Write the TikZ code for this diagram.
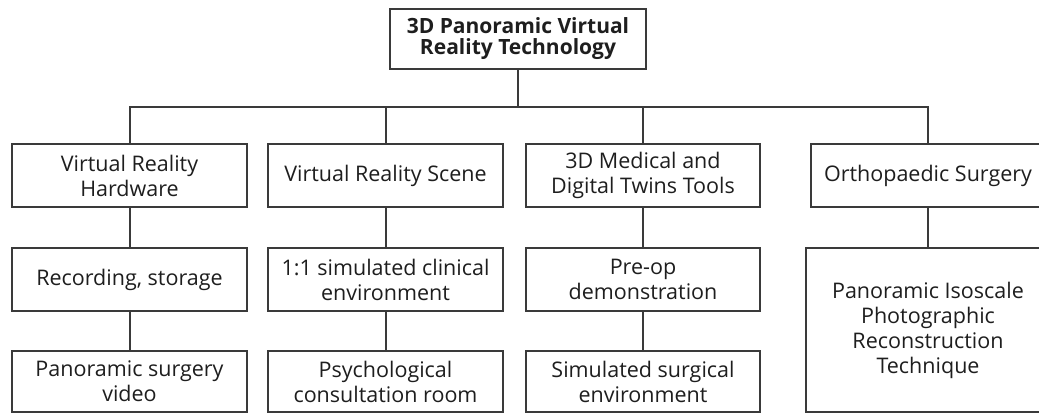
\documentclass[tikz,border=0pt]{standalone}
\usepackage{fontspec}
\setmainfont{Open Sans}
\begin{document}
\begin{tikzpicture}[x=1pt,y=-1pt,
  box/.style={draw=linegray, line width=2pt, fill=white, align=center,
    inner sep=0pt, text=textgray,
    font=\fontsize{21.5}{25}\selectfont},
  link/.style={draw=linegray, line width=2pt}]
  \definecolor{linegray}{HTML}{3A3A3A}
  \definecolor{textgray}{HTML}{1E1E1E}
  \useasboundingbox (0,0) rectangle (1039,414);
  \clip (0,0) rectangle (1039,414);

  % root
  \node[box, minimum width=256pt, minimum height=60pt,
        font=\fontsize{21}{21}\selectfont\bfseries] (top) at (518,39)
        {3D Panoramic Virtual\\Reality Technology};

  % first level
  \node[box, minimum width=235pt, minimum height=63pt] (h1) at (129.5,175.5) {Virtual Reality\\Hardware};
  \node[box, minimum width=235pt, minimum height=63pt] (h2) at (385.5,175.5) {Virtual Reality Scene};
  \node[box, minimum width=234pt, minimum height=63pt] (h3) at (643,175.5) {3D Medical and\\Digital Twins Tools};
  \node[box, minimum width=234pt, minimum height=63pt] (h4) at (928,175.5) {Orthopaedic Surgery};

  % second level
  \node[box, minimum width=235pt, minimum height=63pt] (m1) at (129.5,279.5) {Recording, storage};
  \node[box, minimum width=235pt, minimum height=63pt] (m2) at (385.5,279.5) {1:1 simulated clinical\\environment};
  \node[box, minimum width=234pt, minimum height=63pt] (m3) at (643,279.5) {Pre-op\\demonstration};
  \node[box, minimum width=244pt, minimum height=164pt] (m4) at (928,330) {Panoramic Isoscale\\Photographic\\Reconstruction\\Technique};

  % third level
  \node[box, minimum width=235pt, minimum height=61pt] (b1) at (129.5,381.5) {Panoramic surgery\\video};
  \node[box, minimum width=235pt, minimum height=61pt] (b2) at (385.5,381.5) {Psychological\\consultation room};
  \node[box, minimum width=234pt, minimum height=61pt] (b3) at (643,381.5) {Simulated surgical\\environment};

  % distribution bus
  \coordinate (bus) at (518,107);
  \draw[link] (top.south) -- (bus);
  \draw[link] (h1.north) |- (bus) -| (h4.north);
  \draw[link] (h2.north) -- (h2.north |- bus);
  \draw[link] (h3.north) -- (h3.north |- bus);

  % vertical chains
  \draw[link] (h1) -- (m1);
  \draw[link] (m1) -- (b1);
  \draw[link] (h2) -- (m2);
  \draw[link] (m2) -- (b2);
  \draw[link] (h3) -- (m3);
  \draw[link] (m3) -- (b3);
  \draw[link] (h4) -- (m4);
\end{tikzpicture}
\end{document}
